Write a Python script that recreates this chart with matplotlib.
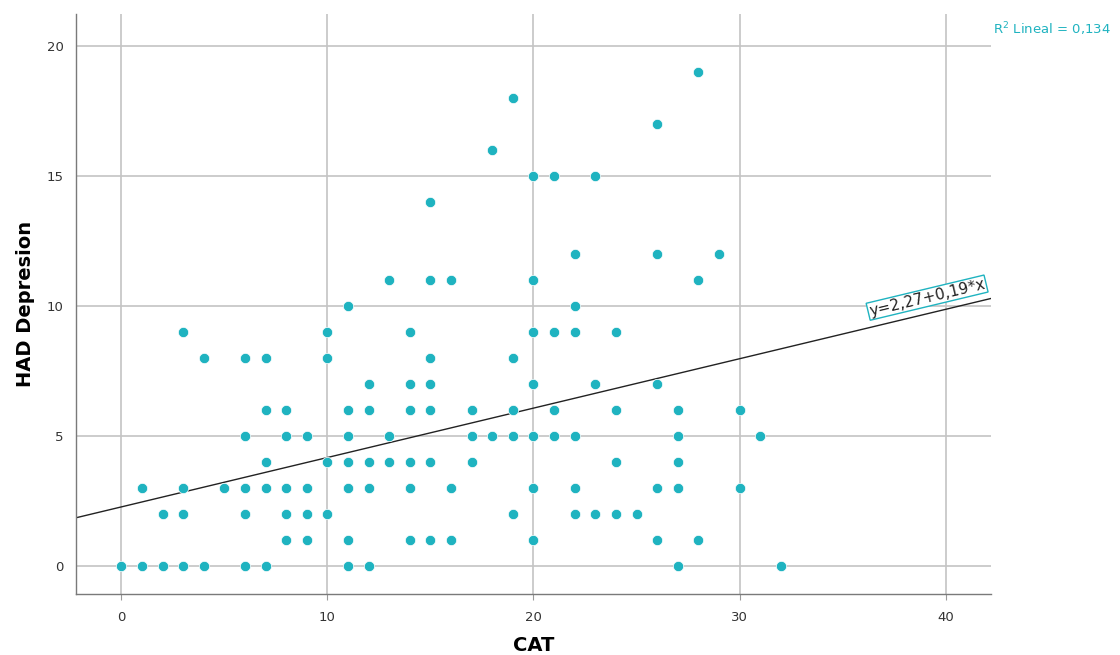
import numpy as np
import matplotlib.pyplot as plt

# CAT score (x) and HAD depression score (y), one entry per patient
cat = [0, 1, 1, 2, 2, 3, 3, 3, 3, 4, 4, 5,
       6, 6, 6, 6, 6, 7, 7, 7, 7, 7, 8, 8, 8, 8, 8,
       9, 9, 9, 9, 10, 10, 10, 10,
       11, 11, 11, 11, 11, 11, 11, 12, 12, 12, 12, 12,
       13, 13, 13, 14, 14, 14, 14, 14, 14,
       15, 15, 15, 15, 15, 15, 15, 16, 16, 16, 17, 17, 17,
       18, 18, 19, 19, 19, 19, 19,
       20, 20, 20, 20, 20, 20, 20, 21, 21, 21, 21,
       22, 22, 22, 22, 22, 22, 23, 23, 23, 24, 24, 24, 24, 25,
       26, 26, 26, 26, 26, 27, 27, 27, 27, 27, 28, 28, 28,
       29, 30, 30, 31, 32]
had = [0, 3, 0, 2, 0, 9, 3, 2, 0, 8, 0, 3,
       8, 5, 3, 2, 0, 8, 6, 4, 3, 0, 6, 5, 3, 2, 1,
       5, 3, 2, 1, 9, 8, 4, 2,
       10, 6, 5, 4, 3, 1, 0, 7, 6, 4, 3, 0,
       11, 5, 4, 9, 7, 6, 4, 3, 1,
       14, 11, 8, 7, 6, 4, 1, 11, 3, 1, 6, 5, 4,
       16, 5, 18, 8, 6, 5, 2,
       15, 11, 9, 7, 5, 3, 1, 15, 9, 6, 5,
       12, 10, 9, 5, 3, 2, 15, 7, 2, 9, 6, 4, 2, 2,
       17, 12, 7, 3, 1, 6, 5, 4, 3, 0, 19, 11, 1,
       12, 6, 3, 5, 0]

# fitted line as printed on the chart
intercept = 2.27
slope = 0.19
r2_text = 'R$^2$ Lineal = 0,134'
fit_text = 'y=2,27+0,19*x'

x_ticks = [0, 10, 20, 30, 40]
y_ticks = [0, 5, 10, 15, 20]

color_pts = '#1fb3c0'

fig = plt.figure(figsize=(11.2, 6.55), dpi=100)
ax = fig.add_axes([76 / 1120, 1 - 594 / 655, (991 - 76) / 1120, (594 - 14) / 655])

xmin, xmax = -2.2, 42.2
ymin, ymax = -1.08, 21.23

ax.set_xlim(xmin, xmax)
ax.set_ylim(ymin, ymax)
ax.set_xticks(x_ticks)
ax.set_yticks(y_ticks)
ax.grid(True, color='#c4c4c4', linewidth=1.2)
ax.set_axisbelow(True)

for s in ['top', 'right']:
    ax.spines[s].set_visible(False)
for s in ['left', 'bottom']:
    ax.spines[s].set_color('#7a7a7a')
    ax.spines[s].set_linewidth(1.0)

ax.tick_params(axis='x', length=4, color='#9a9a9a', pad=8, labelsize=9.5, labelcolor='#333333')
ax.tick_params(axis='y', length=0, pad=9, labelsize=9.5, labelcolor='#333333')

# regression line
xl = np.array([xmin, xmax])
ax.plot(xl, intercept + slope * xl, color='#222222', linewidth=1.0, zorder=2)

ax.scatter(cat, had, s=55, color=color_pts, edgecolors='white', linewidths=0.5, zorder=3)

# label on the line
ang = np.degrees(np.arctan(slope * (580 / (ymax - ymin)) / (915 / (xmax - xmin))))
ax.text(39.1, intercept + slope * 39.1 + 0.62, fit_text, rotation=ang, rotation_mode='anchor',
        ha='center', va='center', fontsize=11, color='#222222', zorder=4,
        bbox=dict(boxstyle='square,pad=0.08', facecolor='white', edgecolor=color_pts, linewidth=1.0))

fig.text(993 / 1120, 1 - 29 / 655, r2_text, color=color_pts, fontsize=9.5, ha='left', va='center')

ax.set_xlabel('CAT', fontsize=14, fontweight='bold', labelpad=9)
ax.set_ylabel('HAD Depresion', fontsize=14, fontweight='bold', labelpad=8)

fig.savefig('out.png', dpi=100)
